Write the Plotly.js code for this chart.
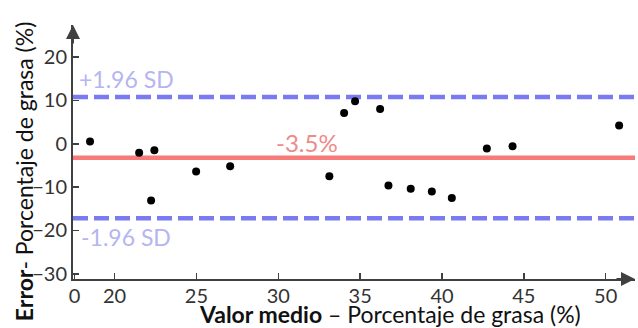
<!DOCTYPE html>
<html>
<head>
<meta charset="utf-8">
<script src="https://cdn.plot.ly/plotly-3.0.1.min.js"></script>
<style>html,body{margin:0;padding:0;background:#fff;}#chart{width:638px;height:328px;}</style>
</head>
<body>
<div id="chart"></div>
<script>
// Data
const meanValue = [18.50, 21.50, 22.43, 22.23, 24.98, 27.06, 33.12, 34.02, 34.69, 36.22, 36.73, 38.09, 39.38, 40.60, 42.74, 44.31, 50.82];
const errorValue = [0.5, -2.1, -1.5, -13.1, -6.4, -5.2, -7.5, 7.1, 9.8, 8.0, -9.6, -10.4, -11.0, -12.5, -1.1, -0.6, 4.2];
const meanDiff = -3.2;
const upperLimit = 10.8;
const lowerLimit = -17.2;
const meanLabel = "-3.5%";
const upperLabel = "+1.96 SD";
const lowerLabel = "-1.96 SD";
const xTickVals = [17.55, 20, 25, 30, 35, 40, 45, 50];
const xTickText = ["0", "20", "25", "30", "35", "40", "45", "50"];
const yTickVals = [-30, -20, -10, 0, 10, 20];
const xRange = [17.46, 51.79];
const yRange = [-31.2, 27.4];

const FONT = "Lato, 'Open Sans', sans-serif";
const axisColor = "#404040";

const traces = [
  {x: xRange, y: [upperLimit, upperLimit], mode: "lines", line: {color: "#7a7af2", width: 4.5, dash: "15px,6px"}, hoverinfo: "skip"},
  {x: xRange, y: [lowerLimit, lowerLimit], mode: "lines", line: {color: "#7a7af2", width: 4.5, dash: "15px,6px"}, hoverinfo: "skip"},
  {x: xRange, y: [meanDiff, meanDiff], mode: "lines", line: {color: "#f77b7b", width: 4.5}, hoverinfo: "skip"},
  {x: meanValue, y: errorValue, mode: "markers", marker: {color: "#000", size: 8}}
];

const layout = {
  width: 638, height: 328,
  margin: {l: 73, r: 3, t: 25, b: 49.3},
  paper_bgcolor: "#fff", plot_bgcolor: "#fff",
  showlegend: false,
  font: {family: FONT, color: "#333", size: 20},
  xaxis: {
    range: xRange, tickvals: xTickVals, ticktext: xTickText,
    showgrid: false, zeroline: false, showline: true, linecolor: axisColor, linewidth: 2,
    ticks: "inside", ticklen: 6, tickwidth: 1.5, tickcolor: axisColor, ticklabelstandoff: -2,
    tickfont: {family: FONT, size: 20, color: "#333"}
  },
  yaxis: {
    range: yRange, tickvals: yTickVals,
    showgrid: false, zeroline: false, showline: true, linecolor: axisColor, linewidth: 2,
    ticks: "inside", ticklen: 6, tickwidth: 1.5, tickcolor: axisColor,
    tickfont: {family: FONT, size: 20, color: "#333"}
  },
  annotations: [
    {xref: "paper", yref: "paper", x: 0, y: 1, ax: 0, ay: 20, text: "", showarrow: true, arrowhead: 2, arrowsize: 1.4, arrowwidth: 2, arrowcolor: axisColor},
    {xref: "paper", yref: "paper", x: 1, y: 0, ax: -20, ay: 0, text: "", showarrow: true, arrowhead: 2, arrowsize: 1.4, arrowwidth: 2, arrowcolor: axisColor},
    {xref: "paper", yref: "y", x: 0.008, y: upperLimit, yshift: 18, xanchor: "left", yanchor: "middle", text: upperLabel, showarrow: false, font: {family: FONT, size: 23, color: "#b5b5f0"}},
    {xref: "paper", yref: "y", x: 0.010, y: lowerLimit, yshift: -19, xanchor: "left", yanchor: "middle", text: lowerLabel, showarrow: false, font: {family: FONT, size: 23, color: "#b5b5f0"}},
    {xref: "x", yref: "y", x: 31.75, y: meanDiff, yshift: 15, xanchor: "center", yanchor: "middle", text: meanLabel, showarrow: false, font: {family: FONT, size: 24, color: "#f08a8a"}},
    {xref: "paper", yref: "paper", x: (390 - 73) / 562, y: -0.139, xanchor: "center", yanchor: "middle", showarrow: false,
     text: "<b>Valor medio</b> – Porcentaje de grasa (%)", font: {family: FONT, size: 23, color: "#111"}},
    {xref: "paper", yref: "paper", x: -0.0872, y: 0.4245, xanchor: "center", yanchor: "middle", textangle: -90, showarrow: false,
     text: "<b>Error</b>- Porcentaje de grasa (%)", font: {family: FONT, size: 23, color: "#111"}}
  ]
};

Plotly.newPlot("chart", traces, layout, {displayModeBar: false, staticPlot: true});
</script>
</body>
</html>
